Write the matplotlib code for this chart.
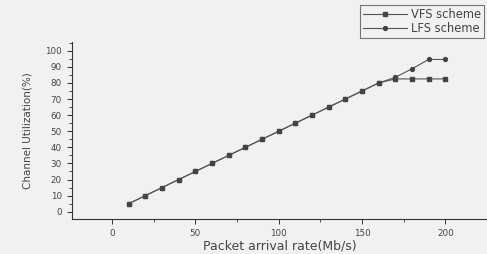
import matplotlib
matplotlib.use("Agg")
import matplotlib.pyplot as plt
from matplotlib.ticker import MultipleLocator

# packet arrival rate (Mb/s)
rate = [10, 20, 30, 40, 50, 60, 70, 80, 90, 100,
        110, 120, 130, 140, 150, 160, 170, 180, 190, 200]

# channel utilization (%)
vfs = [5, 10, 15, 20, 25, 30, 35, 40, 45, 50,
       55, 60, 65, 70, 75, 80, 82.5, 82.5, 82.5, 82.5]
lfs = [5, 10, 15, 20, 25, 30, 35, 40, 45, 50,
       55, 60, 65, 70, 75, 80, 83.5, 88.8, 94.6, 94.6]

bg = "#f1f1f1"
fig = plt.figure(figsize=(4.87, 2.54), dpi=100, facecolor=bg)
ax = fig.add_axes([0.148, 0.138, 0.852, 0.697], facecolor=bg)

ax.plot(rate, vfs, "-s", color="#555555", lw=0.8, ms=2.8,
        mfc="#444444", mec="#444444", label="VFS scheme")
ax.plot(rate, lfs, "-o", color="#555555", lw=0.8, ms=2.8,
        mfc="#444444", mec="#444444", label="LFS scheme")

ax.set_xlim(-24, 225)
ax.set_ylim(-4.5, 105.5)
ax.xaxis.set_major_locator(MultipleLocator(50))
ax.xaxis.set_minor_locator(MultipleLocator(25))
ax.yaxis.set_major_locator(MultipleLocator(10))
ax.yaxis.set_minor_locator(MultipleLocator(5))

for s in ["top", "right"]:
    ax.spines[s].set_visible(False)
for s in ["left", "bottom"]:
    ax.spines[s].set_color("#333333")
    ax.spines[s].set_linewidth(0.8)

ax.tick_params(which="both", direction="out", colors="#333333", labelsize=6.3,
               labelcolor="#444444", pad=4)
ax.tick_params(which="major", length=3.5, width=0.7)
ax.tick_params(which="minor", length=2, width=0.6)

ax.set_xlabel("Packet arrival rate(Mb/s)", fontsize=9, color="#444444", labelpad=1)
ax.set_ylabel("Channel Utilization(%)", fontsize=7.5, color="#444444", labelpad=9)

leg = fig.legend(loc="upper right", bbox_to_anchor=(0.993, 0.98), fontsize=8.3,
                 frameon=True, fancybox=False, edgecolor="#555555",
                 facecolor=bg, borderpad=0.25, labelspacing=0.1,
                 handlelength=3.8, handletextpad=0.35, borderaxespad=0)
leg.get_frame().set_linewidth(0.8)
for t in leg.get_texts():
    t.set_color("#444444")

fig.savefig("out.png", dpi=100, facecolor=bg)
